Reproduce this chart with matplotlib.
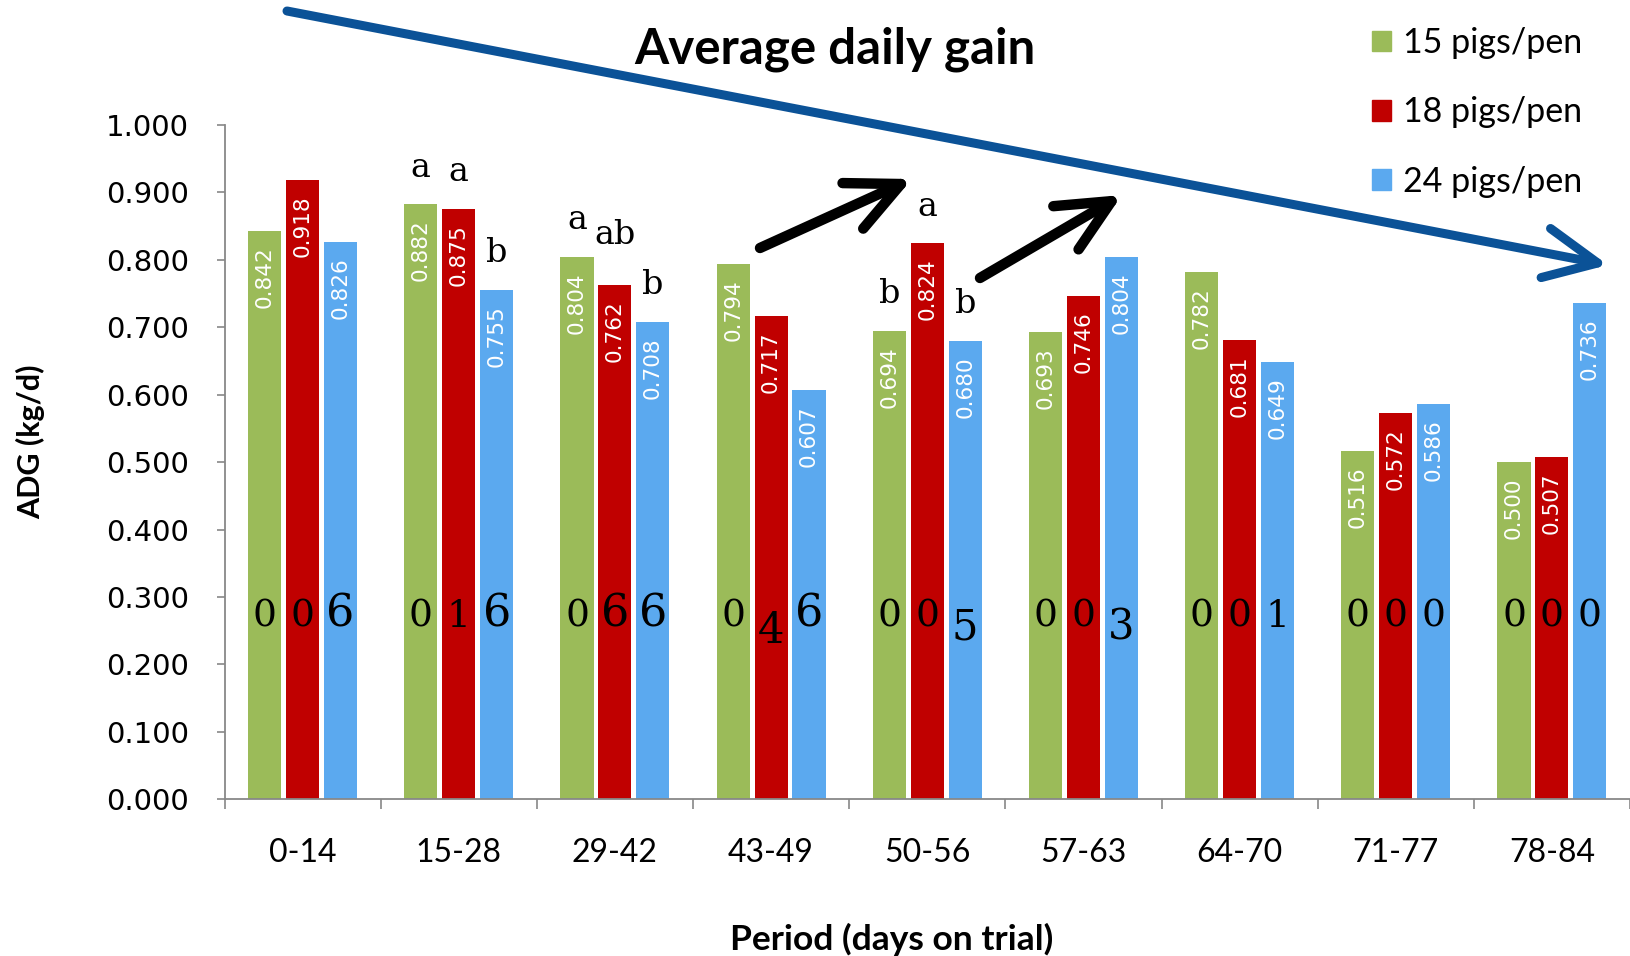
import numpy as np
import matplotlib
matplotlib.use("Agg")
import matplotlib.pyplot as plt
from matplotlib.patches import Patch, FancyArrowPatch

plt.rcParams["font.family"] = ["Lato", "DejaVu Sans"]

# ------------------------------------
# data
# ------------------------------------
periods = ["0-14", "15-28", "29-42", "43-49", "50-56", "57-63", "64-70", "71-77", "78-84"]
series_names = ["15 pigs/pen", "18 pigs/pen", "24 pigs/pen"]

adg_15 = [0.842, 0.882, 0.804, 0.794, 0.694, 0.693, 0.782, 0.516, 0.500]
adg_18 = [0.918, 0.875, 0.762, 0.717, 0.824, 0.746, 0.681, 0.572, 0.507]
adg_24 = [0.826, 0.755, 0.708, 0.607, 0.680, 0.804, 0.649, 0.586, 0.736]

# counts printed low in every bar
count_15 = [0, 0, 0, 0, 0, 0, 0, 0, 0]
count_18 = [0, 1, 6, 4, 0, 0, 0, 0, 0]
count_24 = [6, 6, 6, 6, 5, 3, 1, 0, 0]

# significance letters
sig_15 = ["", "a", "a", "", "b", "", "", "", ""]
sig_18 = ["", "a", "ab", "", "a", "", "", "", ""]
sig_24 = ["", "b", "b", "", "b", "", "", "", ""]

colors = ["#9BBB59", "#C00000", "#5BA9EF"]

# ------------------------------------
# figure
# ------------------------------------
W, H = 1630, 956
fig = plt.figure(figsize=(W / 100, H / 100), dpi=100)
ax = fig.add_axes([224.5 / W, 156.6 / H, 1 - 224.5 / W, 674.7 / H])

x = np.arange(len(periods))
offset = 0.243
width = 0.212

values = [adg_15, adg_18, adg_24]
counts = [count_15, count_18, count_24]
letters = [sig_15, sig_18, sig_24]

# old-style figure look: (size, baseline shift in points)
digit_style = {"0": (27, 0), "1": (27, 0), "2": (27, 0),
               "6": (32, 0), "8": (32, 0),
               "3": (30, -9), "4": (30, -12), "5": (30, -9),
               "7": (30, -9), "9": (30, -9)}

for k in range(3):
    xs = x + (k - 1) * offset
    ax.bar(xs, values[k], width=width, color=colors[k], label=series_names[k], zorder=2)
    for xi, v, c, s in zip(xs, values[k], counts[k], letters[k]):
        ax.annotate(f"{v:.3f}", (xi, v), xytext=(0, -11), textcoords="offset points",
                    rotation=90, ha="center", va="top", color="white",
                    fontsize=15.5, family="DejaVu Sans", zorder=3)
        size, shift = digit_style[str(c)]
        ax.annotate(str(c), (xi, 0.256), xytext=(0, shift), textcoords="offset points",
                    ha="center", va="baseline", fontsize=size,
                    family="DejaVu Serif", color="black", zorder=3)
        if s:
            pad = 30 if len(s) > 1 else 20
            ax.annotate(s, (xi, v), xytext=(0, pad), textcoords="offset points",
                        ha="center", va="baseline", fontsize=24,
                        family="DejaVu Serif", color="black", zorder=3)

ax.set_xlim(-0.5, len(periods) - 0.5)
ax.set_ylim(0, 1.0)
ax.set_yticks(np.arange(0, 1.01, 0.1))
ax.set_yticklabels([f"{t:.3f}" for t in np.arange(0, 1.01, 0.1)],
                   family="DejaVu Sans", fontsize=21)
ax.set_xticks(x)
ax.set_xticklabels(periods, fontsize=23)
ax.set_xticks(np.arange(-0.5, len(periods), 1.0), minor=True)
ax.tick_params(axis="x", which="major", length=0, pad=28)
ax.tick_params(axis="x", which="minor", length=7.5, color="#888888", width=1.2)
ax.tick_params(axis="y", length=5.5, color="#888888", width=1.2, pad=20)

for side in ["top", "right"]:
    ax.spines[side].set_visible(False)
for side in ["left", "bottom"]:
    ax.spines[side].set_color("#888888")
    ax.spines[side].set_linewidth(1.3)

ax.set_ylabel("ADG (kg/d)", fontsize=22, fontweight="bold", va="center")
ax.yaxis.set_label_coords(-0.1377, 0.53)
ax.set_xlabel("Period (days on trial)", fontsize=25.5, fontweight="bold", va="center")
ax.xaxis.set_label_coords(0.475, -0.207)

fig.text(835 / W, 1 - 49 / H, "Average daily gain", ha="center", va="center",
         fontsize=35.5, fontweight="bold")

handles = [Patch(color=c) for c in colors]
fig.legend(handles, series_names, loc="upper left",
           bbox_to_anchor=(1372 / W, 1 - 27 / H), frameon=False,
           fontsize=24.5, handlelength=0.56, handleheight=0.56,
           handletextpad=0.35, labelspacing=1.1, borderpad=0, borderaxespad=0)

# ------------------------------------
# trend arrows (figure pixels, top-left origin)
# ------------------------------------
def px(p):
    return (p[0] / W, 1 - p[1] / H)

arrows = [((287, 11), (1608, 265), "#0B5297", 6.5),
          ((760, 248), (912, 179), "black", 7.5),
          ((980, 278), (1122, 195), "black", 7.5)]
for a, b, col, lw in arrows:
    fig.add_artist(FancyArrowPatch(px(a), px(b), transform=fig.transFigure,
                                   arrowstyle="->,head_length=38,head_width=18",
                                   mutation_scale=1, lw=lw, color=col,
                                   shrinkA=0, shrinkB=0, zorder=5))

fig.savefig("out.png", dpi=100, facecolor="white")
